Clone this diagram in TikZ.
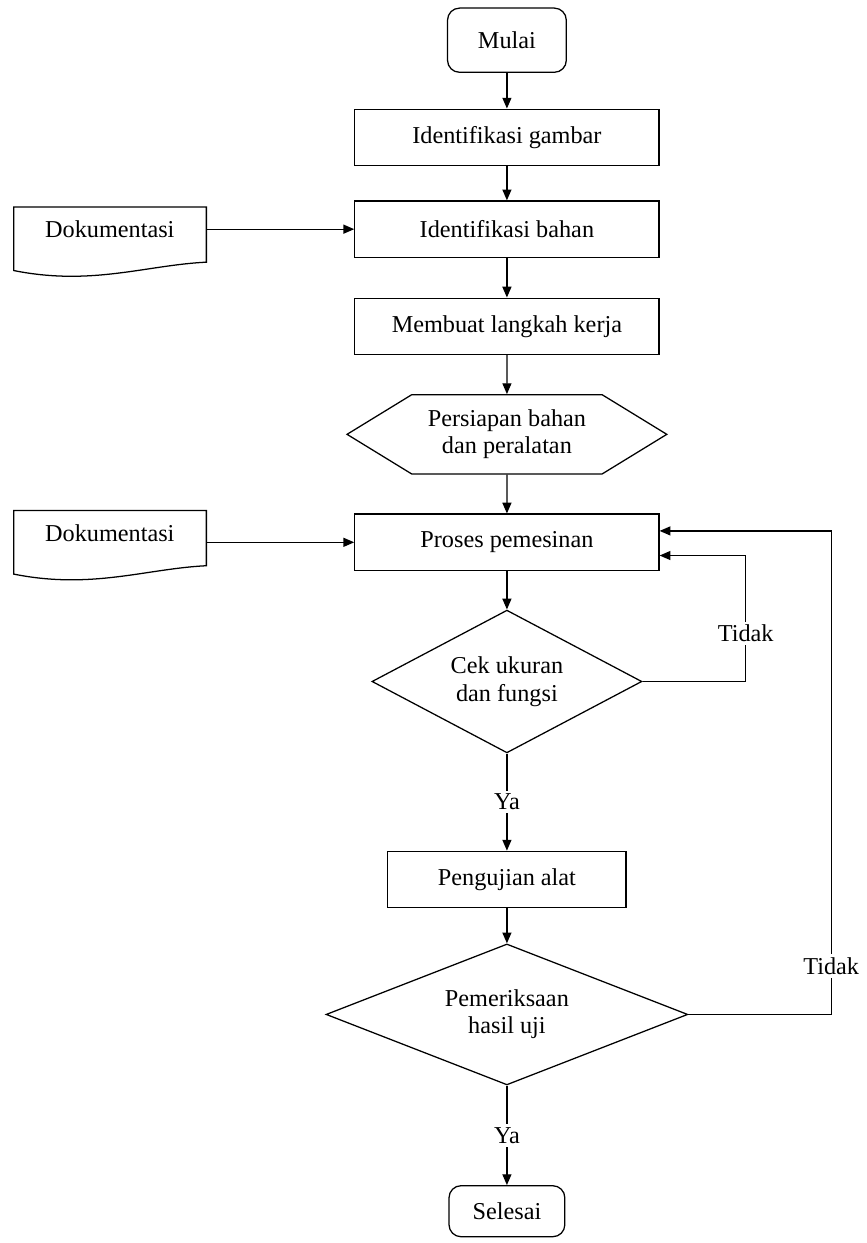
\documentclass[tikz,border=0pt]{standalone}
\usepackage{fontspec}
\setmainfont{Liberation Serif}
\usepackage{tikz}
\usetikzlibrary{shapes,arrows,positioning,calc,arrows.meta}

\begin{document}
\begin{tikzpicture}[node distance=1.6cm, semithick, >={Triangle[length=1.8mm,width=1.5mm]},
    every node/.style={rectangle, draw, align=center, font=\fontsize{11.5}{13}\selectfont},
    terminal/.style={rounded corners=0.2cm, minimum width=1.98cm, minimum height=1.07cm},
    kotak/.style={minimum width=5.07cm, minimum height=0.94cm},
    keputusan/.style={diamond, inner sep=0pt},
    persiapan/.style={signal, signal to=west and east, signal pointer angle=63, minimum width=5.33cm, minimum height=1.32cm},
    dokumen/.style={draw=none, minimum width=3.22cm},
    ket/.style={draw=none, fill=white, inner sep=1.5pt}]
    \useasboundingbox (0,0) rectangle (14.45,-20.72);

    \node [terminal] (mulai) at (8.45,-0.67) {Mulai};
    \node [kotak, below of=mulai, node distance=1.62cm] (ig) {Identifikasi gambar};
    \node [kotak, below of=ig, node distance=1.53cm] (ib) {Identifikasi bahan};
    \node [kotak, below of=ib, node distance=1.62cm] (mlk) {Membuat langkah kerja};
    \node [persiapan, below of=mlk, node distance=1.8cm] (siap) {Persiapan bahan\\dan peralatan};
    \node [kotak, below of=siap, node distance=1.8cm] (proses) {Proses pemesinan};
    \node [keputusan, aspect=1.89, minimum width=4.5cm, minimum height=2.38cm, below of=proses, node distance=2.32cm] (cek) {Cek ukuran\\dan fungsi};
    \node [kotak, minimum width=3.97cm, below of=cek, node distance=3.3cm] (uji) {Pengujian alat};
    \node [keputusan, aspect=2.57, minimum width=6.03cm, minimum height=2.35cm, below of=uji, node distance=2.25cm] (periksa) {Pemeriksaan\\hasil uji};
    \node [terminal, minimum width=1.93cm, minimum height=0.85cm, below of=periksa, node distance=3.28cm] (selesai) {Selesai};
    \node [dokumen, left of=ib, node distance=6.62cm] (dok1) {Dokumentasi};
    \node [dokumen, left of=proses, node distance=6.62cm, yshift=0.16cm] (dok2) {Dokumentasi};

    % lembar dokumentasi
    \draw ($(dok1.center)+(-1.6,0.37)$) -- ($(dok1.center)+(1.61,0.37)$) -- ($(dok1.center)+(1.61,-0.55)$)
        .. controls ($(dok1.center)+(0.6,-0.6)$) and ($(dok1.center)+(-0.3,-0.95)$) .. ($(dok1.center)+(-1.6,-0.69)$) -- cycle;
    \draw ($(dok2.center)+(-1.6,0.37)$) -- ($(dok2.center)+(1.61,0.37)$) -- ($(dok2.center)+(1.61,-0.55)$)
        .. controls ($(dok2.center)+(0.6,-0.6)$) and ($(dok2.center)+(-0.3,-0.95)$) .. ($(dok2.center)+(-1.6,-0.69)$) -- cycle;

    \draw [->] (mulai) -- (ig);
    \draw [->] (ig) -- (ib);
    \draw [->] (ib) -- (mlk);
    \draw [->] (mlk) -- (siap);
    \draw [->] (siap) -- (proses);
    \draw [->] (proses) -- (cek);
    \draw [->] (cek) -- node[ket] {Ya} (uji);
    \draw [->] (uji) -- (periksa);
    \draw [->] (periksa) -- node[ket] {Ya} (selesai);
    \draw [->] (dok1.east) -- (ib);
    \draw [->] (dok2.east |- proses) -- (proses);
    \draw [->] (cek.east) -- ++(1.72,0) |- node[ket, pos=0.19] {Tidak} ([yshift=-0.22cm]proses.east);
    \draw [->] (periksa.east) -- ++(2.38,0) |- node[ket, pos=0.05] {Tidak} ([yshift=0.19cm]proses.east);
\end{tikzpicture}
\end{document}
